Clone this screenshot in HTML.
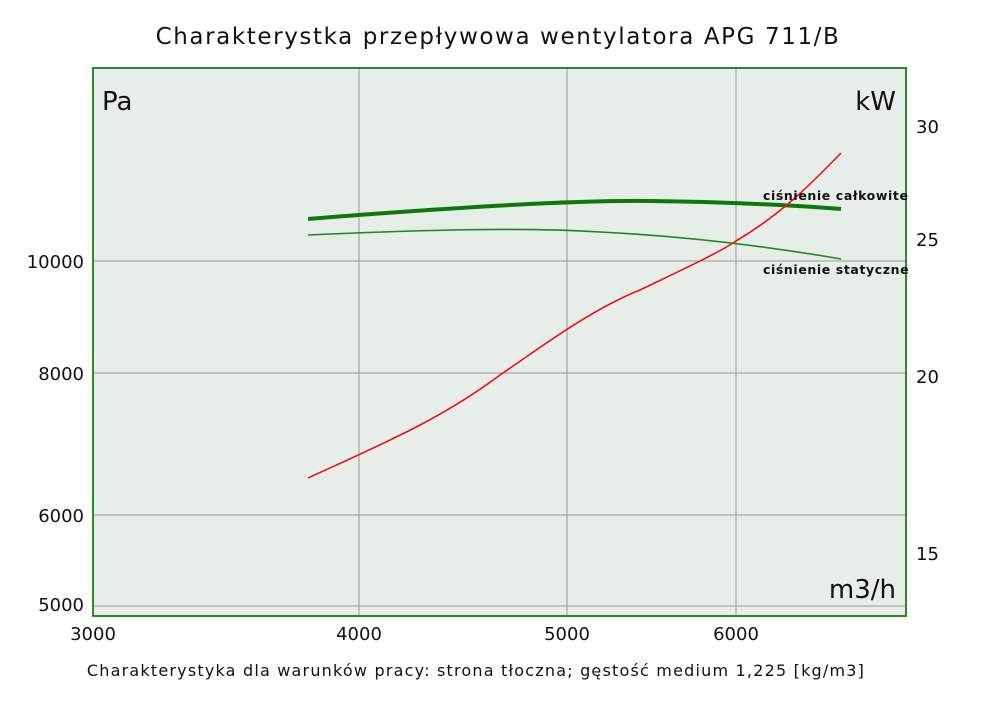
<!DOCTYPE html>
<html><head><meta charset="utf-8"><style>
body{margin:0;background:#fff;width:1000px;height:706px;overflow:hidden}
svg text{font-family:"DejaVu Sans","Liberation Sans",sans-serif;fill:#111}
</style></head><body>
<svg width="1000" height="706" viewBox="0 0 1000 706">
<rect x="0" y="0" width="1000" height="706" fill="#fff"/>
<text x="498" y="44" font-size="23" text-anchor="middle" letter-spacing="1.6">Charakterystka przepływowa wentylatora APG 711/B</text>
<rect x="93" y="68" width="813" height="548" fill="#e7ede8"/>
<g stroke="#9a9a9a" stroke-width="1">
<line x1="359" y1="68" x2="359" y2="616"/>
<line x1="567" y1="68" x2="567" y2="616"/>
<line x1="736" y1="68" x2="736" y2="616"/>
<line x1="93" y1="261" x2="906" y2="261"/>
<line x1="93" y1="373" x2="906" y2="373"/>
<line x1="93" y1="515" x2="906" y2="515"/>
<line x1="93" y1="606" x2="906" y2="606"/>
</g>
<rect x="93" y="68" width="813" height="548" fill="none" stroke="#2a8a2a" stroke-width="2"/>
<path d="M308,219 C420,210 560,200 650,201 C730,202 790,205 841,209" fill="none" stroke="#0a7a0a" stroke-width="4"/>
<path d="M308,235 C420,230 520,227 600,232 C680,236 760,245 841,259" fill="none" stroke="#1a8a1a" stroke-width="1.6"/>
<path d="M308,478 C380,445 440,420 500,375 C540,348 590,310 640,290 C690,266 720,252 736,241 C780,215 810,185 841,153" fill="none" stroke="#ee1111" stroke-width="1.6"/>
<text x="763" y="200" font-size="12.5" font-weight="bold" letter-spacing="0.6">ciśnienie całkowite</text>
<text x="763" y="274" font-size="12.5" font-weight="bold" letter-spacing="0.6">ciśnienie statyczne</text>
<text x="102" y="110" font-size="26">Pa</text>
<text x="896" y="110" font-size="26" text-anchor="end">kW</text>
<text x="896" y="598" font-size="26" text-anchor="end">m3/h</text>
<g font-size="18" text-anchor="end">
<text x="84" y="268">10000</text>
<text x="84" y="380">8000</text>
<text x="84" y="522">6000</text>
<text x="84" y="611">5000</text>
</g>
<g font-size="18">
<text x="916" y="133">30</text>
<text x="916" y="246">25</text>
<text x="916" y="383">20</text>
<text x="916" y="560">15</text>
</g>
<g font-size="18" text-anchor="middle">
<text x="93" y="640">3000</text>
<text x="359" y="640">4000</text>
<text x="567" y="640">5000</text>
<text x="736" y="640">6000</text>
</g>
<text x="476" y="676" font-size="16" text-anchor="middle" letter-spacing="1.2">Charakterystyka dla warunków pracy: strona tłoczna; gęstość medium 1,225 [kg/m3]</text>
</svg>
</body></html>
